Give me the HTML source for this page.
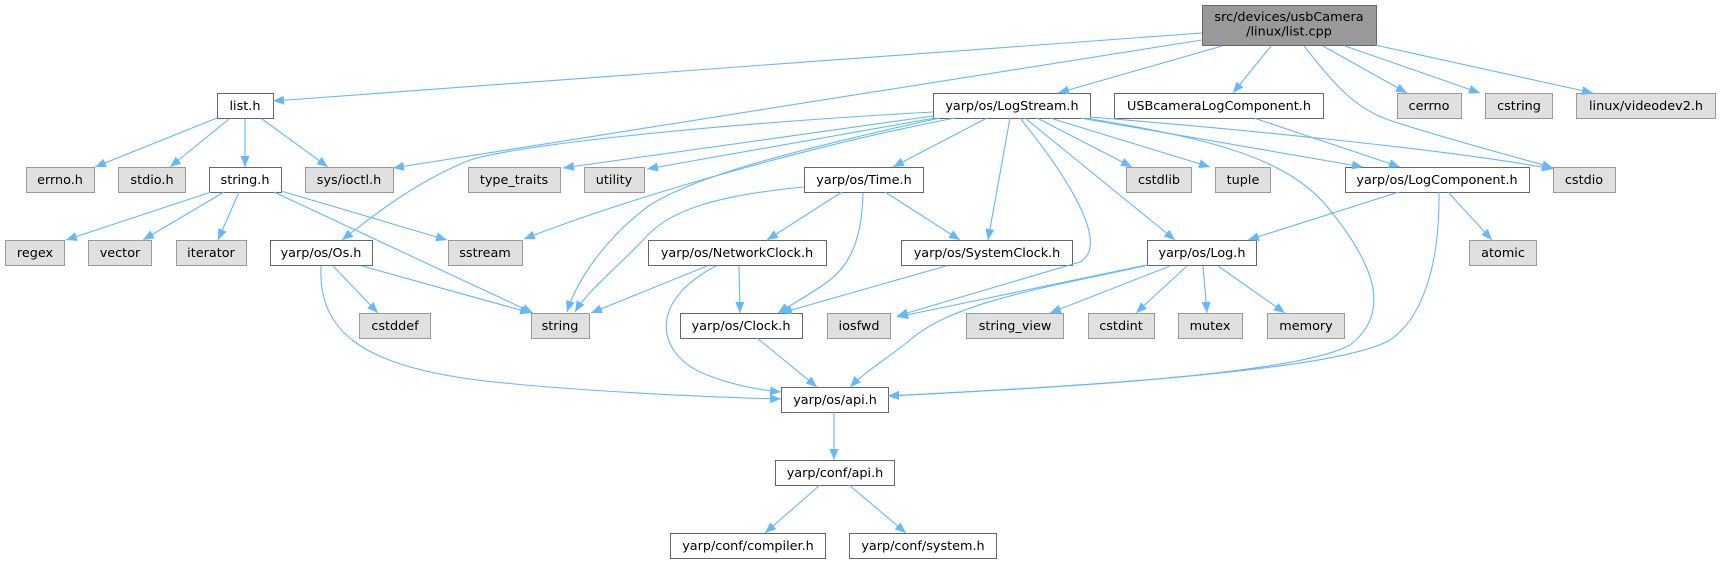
<!DOCTYPE html>
<html><head><meta charset="utf-8"><style>
html,body{margin:0;padding:0;background:#fff;}
svg{display:block;}
text{font-family:"DejaVu Sans","Liberation Sans",sans-serif;font-size:12.8px;fill:#000;text-anchor:middle;}
.w{fill:#fff;stroke:#666;stroke-width:1;}
.g{fill:#e0e0e0;stroke:#999;stroke-width:1;}
.r{fill:#999;stroke:#666;stroke-width:1;}
.e{fill:none;stroke:#63b8ff;stroke-width:1.1;marker-end:url(#a);}
</style></head><body>
<svg width="1720" height="564" viewBox="0 0 1720 564" xmlns="http://www.w3.org/2000/svg">
<defs><marker id="a" markerWidth="12" markerHeight="10" refX="11" refY="4.5" orient="auto" markerUnits="userSpaceOnUse"><path d="M0,0 L11,4.5 L0,9 z" fill="#63b8ff"/></marker></defs>

<!-- nodes -->
<rect class="r" x="1202.5" y="5.5" width="174" height="40"/>
<text x="1289" y="21">src/devices/usbCamera</text>
<text x="1289" y="35.5">/linux/list.cpp</text>

<!-- row1 -->
<rect class="w" x="217.5" y="93.5" width="56" height="25"/><text x="245" y="110">list.h</text>
<rect class="w" x="933.5" y="93.5" width="157" height="25"/><text x="1012" y="110">yarp/os/LogStream.h</text>
<rect class="w" x="1114.5" y="93.5" width="209" height="25"/><text x="1219" y="110">USBcameraLogComponent.h</text>
<rect class="g" x="1397.5" y="93.5" width="64" height="25"/><text x="1429" y="110">cerrno</text>
<rect class="g" x="1485.5" y="93.5" width="67" height="25"/><text x="1519" y="110">cstring</text>
<rect class="g" x="1576.5" y="93.5" width="139" height="25"/><text x="1646" y="110">linux/videodev2.h</text>

<!-- row2 -->
<rect class="g" x="26.5" y="167.5" width="68" height="25"/><text x="60" y="184">errno.h</text>
<rect class="g" x="118.5" y="167.5" width="67" height="25"/><text x="152" y="184">stdio.h</text>
<rect class="w" x="209.5" y="167.5" width="72" height="25"/><text x="245" y="184">string.h</text>
<rect class="g" x="305.5" y="167.5" width="88" height="25"/><text x="349" y="184">sys/ioctl.h</text>
<rect class="g" x="468.5" y="167.5" width="92" height="25"/><text x="514" y="184">type_traits</text>
<rect class="g" x="584.5" y="167.5" width="60" height="25"/><text x="614" y="184">utility</text>
<rect class="w" x="804.5" y="167.5" width="119" height="25"/><text x="864" y="184">yarp/os/Time.h</text>
<rect class="g" x="1126.5" y="167.5" width="65" height="25"/><text x="1159" y="184">cstdlib</text>
<rect class="g" x="1215.5" y="167.5" width="55" height="25"/><text x="1243" y="184">tuple</text>
<rect class="w" x="1345.5" y="167.5" width="184" height="25"/><text x="1437" y="184">yarp/os/LogComponent.h</text>
<rect class="g" x="1553.5" y="167.5" width="62" height="25"/><text x="1584" y="184">cstdio</text>

<!-- row3 -->
<rect class="g" x="5.5" y="240.5" width="59" height="25"/><text x="35" y="257">regex</text>
<rect class="g" x="88.5" y="240.5" width="63" height="25"/><text x="120" y="257">vector</text>
<rect class="g" x="176.5" y="240.5" width="70" height="25"/><text x="211" y="257">iterator</text>
<rect class="w" x="270.5" y="240.5" width="102" height="25"/><text x="321" y="257">yarp/os/Os.h</text>
<rect class="g" x="448.5" y="240.5" width="74" height="25"/><text x="485" y="257">sstream</text>
<rect class="w" x="648.5" y="240.5" width="178" height="25"/><text x="737" y="257">yarp/os/NetworkClock.h</text>
<rect class="w" x="901.5" y="240.5" width="171" height="25"/><text x="987" y="257">yarp/os/SystemClock.h</text>
<rect class="w" x="1147.5" y="240.5" width="109" height="25"/><text x="1202" y="257">yarp/os/Log.h</text>
<rect class="g" x="1469.5" y="240.5" width="67" height="25"/><text x="1503" y="257">atomic</text>

<!-- row4 -->
<rect class="g" x="359.5" y="313.5" width="71" height="25"/><text x="395" y="330">cstddef</text>
<rect class="g" x="531.5" y="313.5" width="58" height="25"/><text x="560" y="330">string</text>
<rect class="w" x="680.5" y="313.5" width="122" height="25"/><text x="741" y="330">yarp/os/Clock.h</text>
<rect class="g" x="827.5" y="313.5" width="63" height="25"/><text x="859" y="330">iosfwd</text>
<rect class="g" x="966.5" y="313.5" width="97" height="25"/><text x="1015" y="330">string_view</text>
<rect class="g" x="1088.5" y="313.5" width="66" height="25"/><text x="1121" y="330">cstdint</text>
<rect class="g" x="1178.5" y="313.5" width="64" height="25"/><text x="1210" y="330">mutex</text>
<rect class="g" x="1267.5" y="313.5" width="77" height="25"/><text x="1306" y="330">memory</text>

<!-- lower rows -->
<rect class="w" x="781.5" y="387.5" width="107" height="25"/><text x="835" y="404">yarp/os/api.h</text>
<rect class="w" x="775.5" y="460.5" width="119" height="25"/><text x="835" y="477">yarp/conf/api.h</text>
<rect class="w" x="670.5" y="533.5" width="155" height="25"/><text x="748" y="550">yarp/conf/compiler.h</text>
<rect class="w" x="849.5" y="533.5" width="147" height="25"/><text x="923" y="550">yarp/conf/system.h</text>

<!-- edges: root -->
<path class="e" d="M1202,33 L273,101"/>
<path class="e" d="M1202,40 L393,168"/>
<path class="e" d="M1222,46 L1058,93"/>
<path class="e" d="M1271,46 L1233,93"/>
<path class="e" d="M1304,46 C1335,85 1355,110 1395,122 C1450,140 1510,155 1553,168"/>
<path class="e" d="M1323,46 L1407,93"/>
<path class="e" d="M1345,46 L1480,93"/>
<path class="e" d="M1375,45 L1593,93"/>

<!-- list.h -->
<path class="e" d="M217,118 L95,167"/>
<path class="e" d="M229,119 L170,167"/>
<path class="e" d="M245,119 L245,167"/>
<path class="e" d="M262,119 L328,167"/>

<!-- string.h -->
<path class="e" d="M211,192 L66,240"/>
<path class="e" d="M224,192 L143,240"/>
<path class="e" d="M239,192 L218,240"/>
<path class="e" d="M281,191 L447,240"/>
<path class="e" d="M274,192 L533,313"/>

<!-- LogStream -->
<path class="e" d="M933,112 C700,125 520,145 470,160 C420,180 380,210 342,240"/>
<path class="e" d="M933,116 L563,168"/>
<path class="e" d="M935,118 L647,169"/>
<path class="e" d="M955,118 C830,142 650,190 524,239"/>
<path class="e" d="M940,118 C770,155 690,180 650,205 C605,238 577,280 567,312"/>
<path class="e" d="M987,118 L893,167"/>
<path class="e" d="M1010,118 L988,240"/>
<path class="e" d="M1020,118 C1070,180 1110,245 1080,262 L897,316"/>
<path class="e" d="M1025,118 L1175,240"/>
<path class="e" d="M1037,118 L1132,167"/>
<path class="e" d="M1050,118 L1210,167"/>
<path class="e" d="M1080,118 L1363,167"/>
<path class="e" d="M1090,117 C1250,130 1450,150 1553,169"/>
<path class="e" d="M1085,118 C1220,140 1290,160 1330,210 C1370,260 1395,310 1350,345 C1290,378 1000,390 888,396"/>

<!-- USBcamera -->
<path class="e" d="M1254,118 L1400,167"/>

<!-- LogComponent -->
<path class="e" d="M1399,192 L1248,240"/>
<path class="e" d="M1448,192 L1492,240"/>
<path class="e" d="M1439,192 C1440,270 1420,320 1390,340 C1330,375 1000,390 888,396"/>

<!-- Time.h -->
<path class="e" d="M842,192 L767,240"/>
<path class="e" d="M885,192 L960,240"/>
<path class="e" d="M863,193 C862,230 855,260 830,280 C810,295 790,305 778,313"/>
<path class="e" d="M804,187 C710,196 668,212 645,238 C615,270 588,290 575,312"/>

<!-- NetworkClock -->
<path class="e" d="M707,266 L591,313"/>
<path class="e" d="M739,266 L740,313"/>
<path class="e" d="M716,266 C650,300 655,350 700,372 C730,385 760,390 781,392"/>

<!-- Os.h -->
<path class="e" d="M333,266 L378,313"/>
<path class="e" d="M362,266 L531,313"/>
<path class="e" d="M321,266 C318,330 360,365 477,380 C560,390 700,397 781,399"/>

<!-- SystemClock / Clock -->
<path class="e" d="M946,266 L781,313"/>
<path class="e" d="M757,338 L817,387"/>

<!-- Log.h -->
<path class="e" d="M1147,265 L897,317"/>
<path class="e" d="M1145,266 C1030,290 950,305 910,340 C885,360 865,372 850,387"/>
<path class="e" d="M1170,266 L1050,313"/>
<path class="e" d="M1187,266 L1136,313"/>
<path class="e" d="M1203,266 L1207,313"/>
<path class="e" d="M1218,266 L1285,313"/>

<!-- api chain -->
<path class="e" d="M834,412 L834,460"/>
<path class="e" d="M820,485 L765,533"/>
<path class="e" d="M849,485 L906,533"/>
</svg>
</body></html>
